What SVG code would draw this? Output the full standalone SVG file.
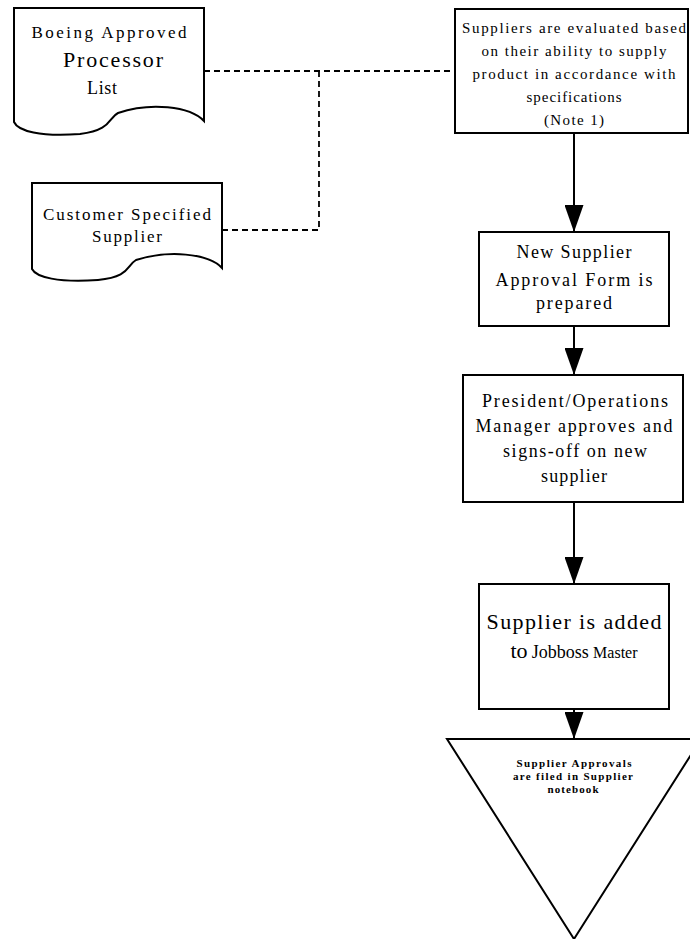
<svg xmlns="http://www.w3.org/2000/svg" width="690" height="939" viewBox="0 0 690 939">
<style>
.shape{fill:#fff;stroke:#000;stroke-width:2}
.t{font-family:"Liberation Serif","Times New Roman","DejaVu Serif",serif;fill:#000;text-anchor:middle}
.dash{fill:none;stroke:#000;stroke-width:1.8;stroke-dasharray:6 4}
.arrow{fill:none;stroke:#000;stroke-width:2;marker-end:url(#ah)}
</style>
<defs>
<marker id="ah" viewBox="0 0 27 19" refX="27" refY="9.5" markerWidth="27" markerHeight="19" markerUnits="userSpaceOnUse" orient="auto">
<path d="M0,0 L27,9.5 L0,19 Z" fill="#000"/>
</marker>
</defs>
<g id="connectors">
<polyline class="dash" points="204,71 319,71 455,71"/>
<polyline class="dash" points="222,230 319,230 319,71"/>
<line class="arrow" x1="574" y1="133" x2="574" y2="232"/>
<line class="arrow" x1="574" y1="326" x2="574" y2="375"/>
<line class="arrow" x1="574" y1="502" x2="574" y2="584"/>
<line class="arrow" x1="574" y1="709" x2="574" y2="739"/>
</g>
<g id="boeing">
<path class="shape" d="M14,8 H204 V121 C190,106 150,102 118,113 C108,118 112,130 80,134 C40,137 18,131 14,122 Z"/>
<text class="t" x="109" y="38" font-size="17" textLength="155" lengthAdjust="spacing">Boeing Approved</text>
<text class="t" x="113" y="67" font-size="22" textLength="100" lengthAdjust="spacing">Processor</text>
<text class="t" x="102" y="94" font-size="18" textLength="30" lengthAdjust="spacing">List</text>
</g>
<g id="customer">
<path class="shape" d="M32,183 H222 V268 C208,253 168,250 136,260 C126,266 130,277 98,280 C58,283 36,277 32,269 Z"/>
<text class="t" x="127" y="220" font-size="17" textLength="168" lengthAdjust="spacing">Customer Specified</text>
<text class="t" x="127" y="242" font-size="17" textLength="70" lengthAdjust="spacing">Supplier</text>
</g>
<g id="evaluate">
<rect class="shape" x="455" y="9" width="233" height="124"/>
<text class="t" x="574" y="33" font-size="15" textLength="224" lengthAdjust="spacing">Suppliers are evaluated based</text>
<text class="t" x="574" y="56" font-size="15" textLength="185" lengthAdjust="spacing">on their ability to supply</text>
<text class="t" x="574" y="79" font-size="15" textLength="203" lengthAdjust="spacing">product in accordance with</text>
<text class="t" x="574" y="102" font-size="15" textLength="95" lengthAdjust="spacing">specifications</text>
<text class="t" x="574" y="125" font-size="15" textLength="60" lengthAdjust="spacing">(Note 1)</text>
</g>
<g id="newform">
<rect class="shape" x="479" y="232" width="190" height="94"/>
<text class="t" x="574" y="258" font-size="18" textLength="115" lengthAdjust="spacing">New Supplier</text>
<text class="t" x="574" y="286" font-size="18" textLength="157" lengthAdjust="spacing">Approval Form is</text>
<text class="t" x="574" y="309" font-size="18" textLength="76" lengthAdjust="spacing">prepared</text>
</g>
<g id="president">
<rect class="shape" x="463" y="375" width="220" height="127"/>
<text class="t" x="575" y="407" font-size="18" textLength="186" lengthAdjust="spacing">President/Operations</text>
<text class="t" x="574" y="432" font-size="18" textLength="197" lengthAdjust="spacing">Manager approves and</text>
<text class="t" x="575" y="457" font-size="18" textLength="144" lengthAdjust="spacing">signs-off on new</text>
<text class="t" x="574" y="482" font-size="18" textLength="66" lengthAdjust="spacing">supplier</text>
</g>
<g id="added">
<rect class="shape" x="479" y="584" width="190" height="125"/>
<text class="t" x="574" y="629" font-size="22" textLength="175" lengthAdjust="spacing">Supplier is added</text>
<text class="t" x="574" y="658" font-size="17"><tspan font-size="22">to</tspan> <tspan font-size="18">Jobboss</tspan> <tspan font-size="16">Master</tspan></text>
</g>
<g id="filed">
<path class="shape" d="M447,739 H701 L574,939 Z"/>
<text class="t" x="574" y="767" font-size="11" font-weight="bold" textLength="115" lengthAdjust="spacing">Supplier Approvals</text>
<text class="t" x="573" y="780" font-size="11" font-weight="bold" textLength="120" lengthAdjust="spacing">are filed in Supplier</text>
<text class="t" x="573" y="793" font-size="11" font-weight="bold" textLength="51" lengthAdjust="spacing">notebook</text>
</g>
</svg>
